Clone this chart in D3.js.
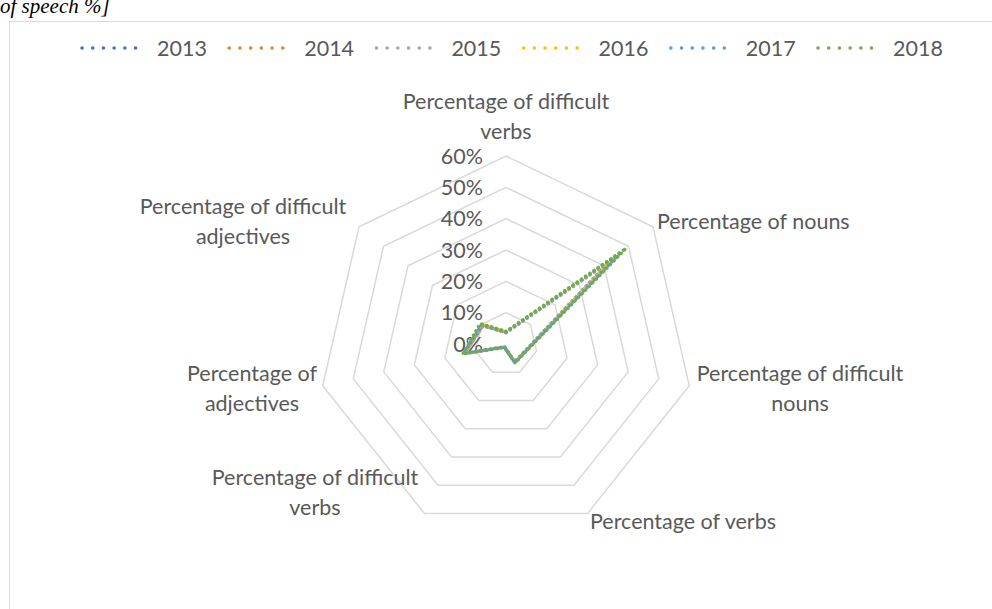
<!DOCTYPE html>
<html>
<head>
<meta charset="utf-8">
<script src="https://cdn.jsdelivr.net/npm/d3@7"></script>
<style>
  body { margin: 0; background: #fff; overflow: hidden; }
  svg { display: block; }
  text { font-family: Lato, "Open Sans", sans-serif; fill: #595959; }
</style>
</head>
<body>
<svg id="chart"></svg>
<script>
// categories clockwise from the top
const categories = [
    ["Percentage of difficult", "verbs"],
    ["Percentage of nouns"],
    ["Percentage of difficult", "nouns"],
    ["Percentage of verbs"],
    ["Percentage of difficult", "verbs"],
    ["Percentage of", "adjectives"],
    ["Percentage of difficult", "adjectives"]
];
const years = ["2013", "2014", "2015", "2016", "2017", "2018"];
const colors = ["#4472C4", "#ED7D31", "#A5A5A5", "#FFC000", "#5B9BD5", "#70AD47"];

// values (fractions)
const v2013 = [0.037, 0.43, 0.070, 0.064, 0.010, 0.138, 0.095];
const v2014 = [0.038, 0.44, 0.071, 0.065, 0.011, 0.136, 0.097];
const v2015 = [0.036, 0.42, 0.069, 0.063, 0.010, 0.135, 0.093];
const v2016 = [0.039, 0.45, 0.072, 0.065, 0.012, 0.137, 0.100];
const v2017 = [0.038, 0.47, 0.071, 0.066, 0.011, 0.140, 0.098];
const v2018 = [0.040, 0.49, 0.073, 0.067, 0.012, 0.141, 0.105];
const series = [v2013, v2014, v2015, v2016, v2017, v2018];

const tickValues = [0, 0.1, 0.2, 0.3, 0.4, 0.5, 0.6];

const width = 992, height = 609;
const cx = 506, cy = 344, R = 188;
const fs = "21.5px";

const svg = d3.select("#chart").attr("width", width).attr("height", height);

// caption of the page above, cut off by the crop
svg.append("text")
    .attr("x", 0).attr("y", 13)
    .style("font-family", "'Liberation Serif', serif")
    .style("font-style", "italic")
    .style("font-size", "21px")
    .style("fill", "#000")
    .text("of speech %]");

// chart box
svg.append("rect")
    .attr("x", 9.5).attr("y", 21.5)
    .attr("width", 1000).attr("height", 700)
    .attr("fill", "none")
    .attr("stroke", "#d9d9d9");

const r = d3.scaleLinear().domain([0, 0.6]).range([0, R]);
const angle = d3.scaleLinear().domain([0, categories.length]).range([0, 2 * Math.PI]);

const g = svg.append("g").attr("transform", `translate(${cx},${cy})`);

// rings
const ring = d3.lineRadial()
    .angle((d, i) => angle(i))
    .radius(d => r(d))
    .curve(d3.curveLinearClosed);

g.selectAll(".ring")
    .data(tickValues.slice(1))
    .enter().append("path")
    .attr("class", "ring")
    .attr("d", t => ring(categories.map(() => t)))
    .attr("fill", "none")
    .attr("stroke", "#d9d9d9")
    .attr("stroke-width", 1.5);

// tick labels
g.selectAll(".tick")
    .data(tickValues)
    .enter().append("text")
    .attr("class", "tick")
    .attr("x", -23)
    .attr("y", t => -r(t))
    .attr("dy", "0.35em")
    .attr("text-anchor", "end")
    .style("font-size", fs)
    .text(d3.format(".0%"));

// category labels
const labelPos = [
    { x: 506, y: 101, anchor: "middle" },
    { x: 657, y: 221, anchor: "start" },
    { x: 800, y: 373, anchor: "middle" },
    { x: 590, y: 521, anchor: "start" },
    { x: 315, y: 477, anchor: "middle" },
    { x: 252, y: 373, anchor: "middle" },
    { x: 243, y: 206, anchor: "middle" }
];
const labels = svg.selectAll(".cat")
    .data(categories)
    .enter().append("text")
    .attr("class", "cat")
    .attr("text-anchor", (d, i) => labelPos[i].anchor)
    .style("font-size", fs);
labels.selectAll("tspan")
    .data((d, i) => d.map((line, j) => ({ line, j, p: labelPos[i] })))
    .enter().append("tspan")
    .attr("x", d => d.p.x)
    .attr("y", d => d.p.y + d.j * 30)
    .attr("dy", "0.35em")
    .text(d => d.line);

// series lines, dotted
const line = d3.lineRadial()
    .angle((d, i) => angle(i))
    .radius(d => r(d))
    .curve(d3.curveLinearClosed);

g.selectAll(".series")
    .data(series)
    .enter().append("path")
    .attr("class", "series")
    .attr("d", d => line(d))
    .attr("fill", "none")
    .attr("stroke", (d, i) => colors[i])
    .attr("stroke-width", 3.5)
    .attr("stroke-linecap", "round")
    .attr("stroke-dasharray", "0.1 5");

// legend
const legend = svg.selectAll(".legend")
    .data(years)
    .enter().append("g")
    .attr("class", "legend")
    .attr("transform", (d, i) => `translate(${82 + i * 147.2},48)`);

legend.append("line")
    .attr("x1", 0).attr("x2", 64)
    .attr("stroke", (d, i) => colors[i])
    .attr("stroke-width", 3.5)
    .attr("stroke-linecap", "round")
    .attr("stroke-dasharray", "0.1 10.6");

legend.append("text")
    .attr("x", 75)
    .attr("dy", "0.35em")
    .style("font-size", fs)
    .text(d => d);
</script>
</body>
</html>
